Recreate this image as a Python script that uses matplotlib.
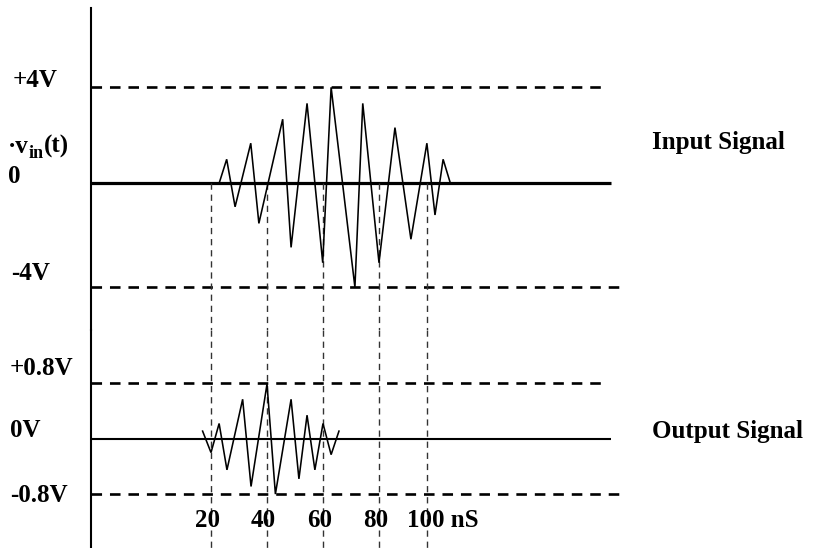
import matplotlib
matplotlib.use("Agg")
import matplotlib.pyplot as plt
from matplotlib.transforms import ScaledTranslation, blended_transform_factory

# ---------------- data ----------------
in_t = [22.9, 25.6, 28.6, 34.2, 37.1, 45.6, 48.6, 54.3, 59.9, 62.9,
        71.4, 74.2, 80.0, 85.7, 91.4, 97.1, 100.0, 102.9, 105.5]
in_v = [0.0, 1.0, -0.98, 1.67, -1.67, 2.67, -2.67, 3.33, -3.31, 4.0,
        -4.33, 3.33, -3.31, 2.32, -2.33, 1.67, -1.32, 1.0, 0.0]

out_t = [17.0, 20.0, 22.9, 25.7, 31.3, 34.3, 40.0, 43.0, 48.6, 51.4,
         54.3, 57.1, 60.0, 62.9, 65.7]
out_v = [0.11, -0.20, 0.22, -0.45, 0.57, -0.69, 0.79, -0.80, 0.57, -0.58,
         0.34, -0.45, 0.22, -0.23, 0.11]

in_levels = [4.0, -4.33]        # +4V / -4V reference lines
out_levels = [0.8, -0.8]        # +0.8V / -0.8V reference lines
mark_t = [20, 40, 60, 80, 97.1]
mark_labels = ["20", "40", "60", "80", "100 nS"]
left_labels_in = ["+4V", ["\u00b7v", "in", "(t)"], "0", "-4V"]
left_labels_out = ["+0.8V", "0V", "-0.8V"]
signal_names = ["Input Signal", "Output Signal"]

# ---------------- style ----------------
W, H = 817, 548
plt.rcParams['font.family'] = ['Liberation Serif', 'DejaVu Serif']
plt.rcParams['font.weight'] = 'bold'
FS = 18

fig = plt.figure(figsize=(W / 100, H / 100), dpi=100)

def rect(x0, y0, x1, y1):
    return [x0 / W, 1 - y1 / H, (x1 - x0) / W, (y1 - y0) / H]

ax_in = fig.add_axes(rect(91, 8, 817, 330))
ax_out = fig.add_axes(rect(91, 330, 817, 548))

xl = (-22.857, 236.43)
ax_in.set_xlim(*xl)
ax_out.set_xlim(*xl)
ax_in.set_ylim(-6.1125, 7.304)
ax_out.set_ylim(-1.579, 1.571)

for ax in (ax_in, ax_out):
    for s in ('top', 'right', 'bottom'):
        ax.spines[s].set_visible(False)
    ax.spines['left'].set_linewidth(1.5)
    ax.spines['left'].set_color('black')
    ax.set_xticks([])
    ax.set_yticks([])
    ax.patch.set_alpha(0)

x0 = xl[0]
ref_dash = (0, (4.0, 3.0))
# input reference lines
ax_in.plot([x0, 160.0], [in_levels[0]] * 2, color='black', lw=1.9, ls=ref_dash)
ax_in.plot([x0, 165.7], [in_levels[1]] * 2, color='black', lw=1.9, ls=ref_dash)
ax_in.plot([x0, 162.9], [0, 0], color='black', lw=2.3, solid_capstyle='butt')
# output reference lines
ax_out.plot([x0, 160.0], [out_levels[0]] * 2, color='black', lw=1.9, ls=ref_dash)
ax_out.plot([x0, 165.7], [out_levels[1]] * 2, color='black', lw=1.9, ls=ref_dash)
ax_out.plot([x0, 162.9], [0, 0], color='black', lw=1.5, solid_capstyle='butt')

# vertical time markers
vdash = (0, (4.5, 3.5))
for t in mark_t:
    ax_in.plot([t, t], [0, ax_in.get_ylim()[0]], color='#333333', lw=1.0, ls=vdash)
    ax_out.plot([t, t], [ax_out.get_ylim()[1], ax_out.get_ylim()[0]],
                color='#333333', lw=1.0, ls=vdash)

# signals
ax_in.plot(in_t, in_v, color='black', lw=1.15, solid_joinstyle='miter')
ax_out.plot(out_t, out_v, color='black', lw=1.15, solid_joinstyle='miter')

# time labels (baseline y = 526.7 px)
ty = 1 - 526.7 / H
blend = blended_transform_factory(ax_out.transData, fig.transFigure)
for t, lab in zip(mark_t, mark_labels):
    if lab.endswith("nS"):
        off = ScaledTranslation(-20 / 100, 0, fig.dpi_scale_trans)
        fig.text(t, ty, lab, fontsize=FS, fontweight='bold', ha='left', va='baseline',
                 transform=blend + off)
    else:
        off = ScaledTranslation(-3.5 / 100, 0, fig.dpi_scale_trans)
        fig.text(t, ty, lab, fontsize=FS, fontweight='bold', ha='center', va='baseline',
                 transform=blend + off)

# left labels (pixel positions)
def ftext(x, y, s, size=FS, **kw):
    return fig.text(x / W, 1 - y / H, s, fontsize=size, fontweight='bold',
                    va='baseline', ha='left', **kw)

ftext(12.5, 86.7, left_labels_in[0])
# v_in(t) composed with a lowered subscript
renderer = fig.canvas.get_renderer()
parts = left_labels_in[1]
cx = 8.3
t1 = ftext(cx, 152.7, parts[0])
cx += t1.get_window_extent(renderer).width
t2 = ftext(cx, 157.5, parts[1], size=13)
cx += t2.get_window_extent(renderer).width
ftext(cx, 152.7, parts[2])
ftext(8.3, 183.3, left_labels_in[2])
ftext(11, 280, left_labels_in[3])
ftext(10, 375, left_labels_out[0])
ftext(10, 436.7, left_labels_out[1])
ftext(10, 501.7, left_labels_out[2])
ftext(651.7, 149.3, signal_names[0])
ftext(651.7, 438, signal_names[1])

fig.savefig("out.png", dpi=100)
